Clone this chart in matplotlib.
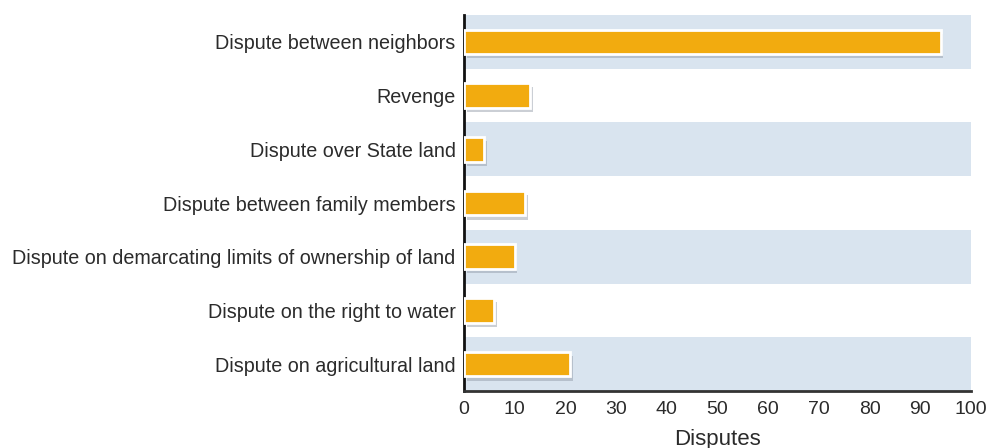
import matplotlib.pyplot as plt
import matplotlib.patheffects as pe

# Causes of disputes and how many were recorded for each
causes = [
    'Dispute between neighbors',
    'Revenge',
    'Dispute over State land',
    'Dispute between family members',
    'Dispute on demarcating limits of ownership of land',
    'Dispute on the right to water',
    'Dispute on agricultural land',
]
disputes = [94, 13, 4, 12, 10, 6, 21]

plt.rcParams['font.family'] = ['Liberation Sans', 'DejaVu Sans']

fig = plt.figure(figsize=(9.89, 4.48), dpi=100)
ax = fig.add_axes([464 / 989, 1 - 391 / 448, (971 - 464) / 989, (391 - 15) / 448])

n = len(causes)
ypos = list(range(n))[::-1]

# alternating row bands
for i, y in enumerate(ypos):
    if i % 2 == 0:
        ax.axhspan(y - 0.5, y + 0.5, color='#d9e4ef', zorder=0, lw=0)

bars = ax.barh(ypos, disputes, height=0.46, color='#f2ab0f', edgecolor='white',
               linewidth=2, zorder=3)
for b in bars:
    b.set_path_effects([
        pe.SimplePatchShadow(offset=(2, -3), shadow_rgbFace='#8c96a3', alpha=0.45),
        pe.Normal(),
    ])

ax.set_xlim(0, 100)
ax.set_ylim(-0.5, n - 0.5)
ax.set_xticks(range(0, 101, 10))
ax.set_yticks(ypos)
ax.set_yticklabels(causes)
ax.tick_params(axis='x', length=0, labelsize=14, colors='#2b2b2b', pad=7)
ax.tick_params(axis='y', length=0, labelsize=14.2, colors='#2b2b2b', pad=6)
ax.set_xlabel('Disputes', fontsize=16, color='#2b2b2b', labelpad=8)

for side in ['top', 'right']:
    ax.spines[side].set_visible(False)
ax.spines['left'].set_color('#111111')
ax.spines['left'].set_linewidth(2)
ax.spines['bottom'].set_color('#333333')
ax.spines['bottom'].set_linewidth(2)

fig.savefig('out.png', dpi=100)
